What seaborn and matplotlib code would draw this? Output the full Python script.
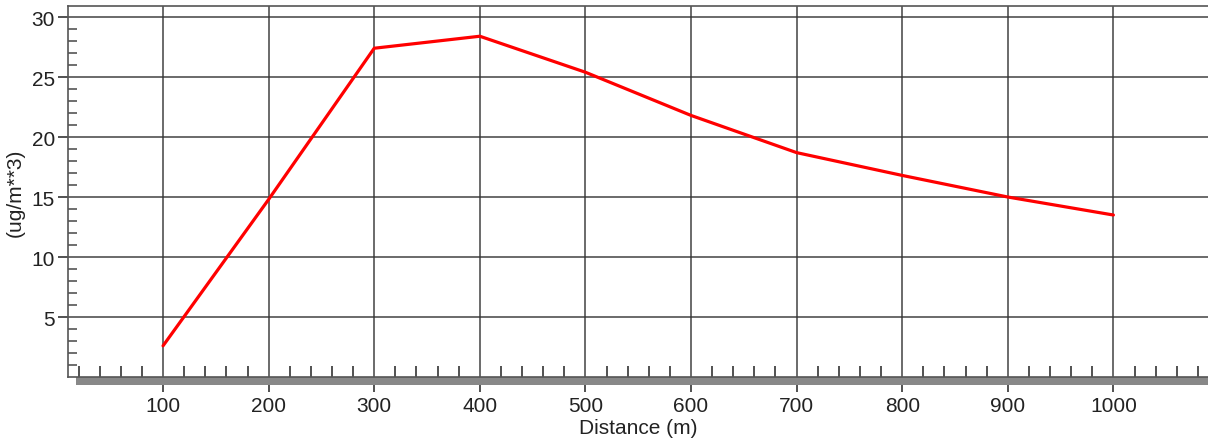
import matplotlib
matplotlib.use("Agg")
import matplotlib.pyplot as plt
import seaborn as sns
import pandas as pd
import numpy as np
from matplotlib.patches import Rectangle

# Data
distance = [100, 200, 300, 400, 500, 600, 700, 800, 900, 1000]
concentration = [2.6, 14.8, 27.4, 28.4, 25.4, 21.8, 18.7, 16.8, 15.0, 13.5]
x_ticks = [100, 200, 300, 400, 500, 600, 700, 800, 900, 1000]
y_ticks = [5, 10, 15, 20, 25, 30]
x_label = "Distance (m)"
y_label = "(ug/m**3)"

sns.set_theme(style="white")
plt.rcParams["font.family"] = ["Liberation Sans", "DejaVu Sans"]

W, H = 1208, 439
fig = plt.figure(figsize=(W / 100, H / 100), dpi=100)
left_px, right_px, top_px, bottom_px = 68, 1208, 7, 378
ax = fig.add_axes([left_px / W, 1 - bottom_px / H, (right_px - left_px) / W, (bottom_px - top_px) / H])

df = pd.DataFrame({"Distance": distance, "Conc": concentration})
sns.lineplot(data=df, x="Distance", y="Conc", ax=ax, color="#ff0000", lw=2.3, zorder=5)

ax.set_xlim(10, 1089.6)
ax.set_ylim(0, 30.92)

ax.set_xticks(x_ticks)
ax.set_xticklabels([str(v) for v in x_ticks], fontsize=15)
ax.set_xticks(np.arange(20, 1090, 20), minor=True)
ax.set_yticks(y_ticks)
ax.set_yticklabels([str(v) for v in y_ticks], fontsize=15)
ax.set_yticks(np.arange(1, 31, 1), minor=True)

ax.grid(True, which="major", color="#333333", lw=1.2, alpha=0.85)
ax.set_axisbelow(True)

ax.tick_params(axis="x", which="major", direction="out", length=11, width=1.2, color="#333333", pad=3, labelcolor="#222222")
ax.tick_params(axis="x", which="minor", direction="in", length=8, width=1.2, color="#333333")
ax.tick_params(axis="y", which="major", direction="out", length=7.5, width=1.2, color="#333333", pad=2, labelcolor="#222222")
ax.tick_params(axis="y", which="minor", direction="in", length=6.5, width=1.2, color="#555555")
ax.tick_params(bottom=True, left=True, which="both")

for s in ["left", "top", "bottom"]:
    ax.spines[s].set_color("#555555")
    ax.spines[s].set_linewidth(1.2)
ax.spines["right"].set_visible(False)

# Thick gray bar beneath the x axis
bar_h = 8 / (bottom_px - top_px)
bar_x0 = 8 / (right_px - left_px)
ax.add_patch(Rectangle((bar_x0, -bar_h), 1 - bar_x0, bar_h, transform=ax.transAxes,
                       facecolor="#888888", edgecolor="none", clip_on=False, zorder=1))

ax.set_xlabel(x_label, fontsize=15, color="#222222", labelpad=2)
ax.set_ylabel(y_label, fontsize=15, color="#222222", labelpad=5)

fig.savefig("out.png", dpi=100)
